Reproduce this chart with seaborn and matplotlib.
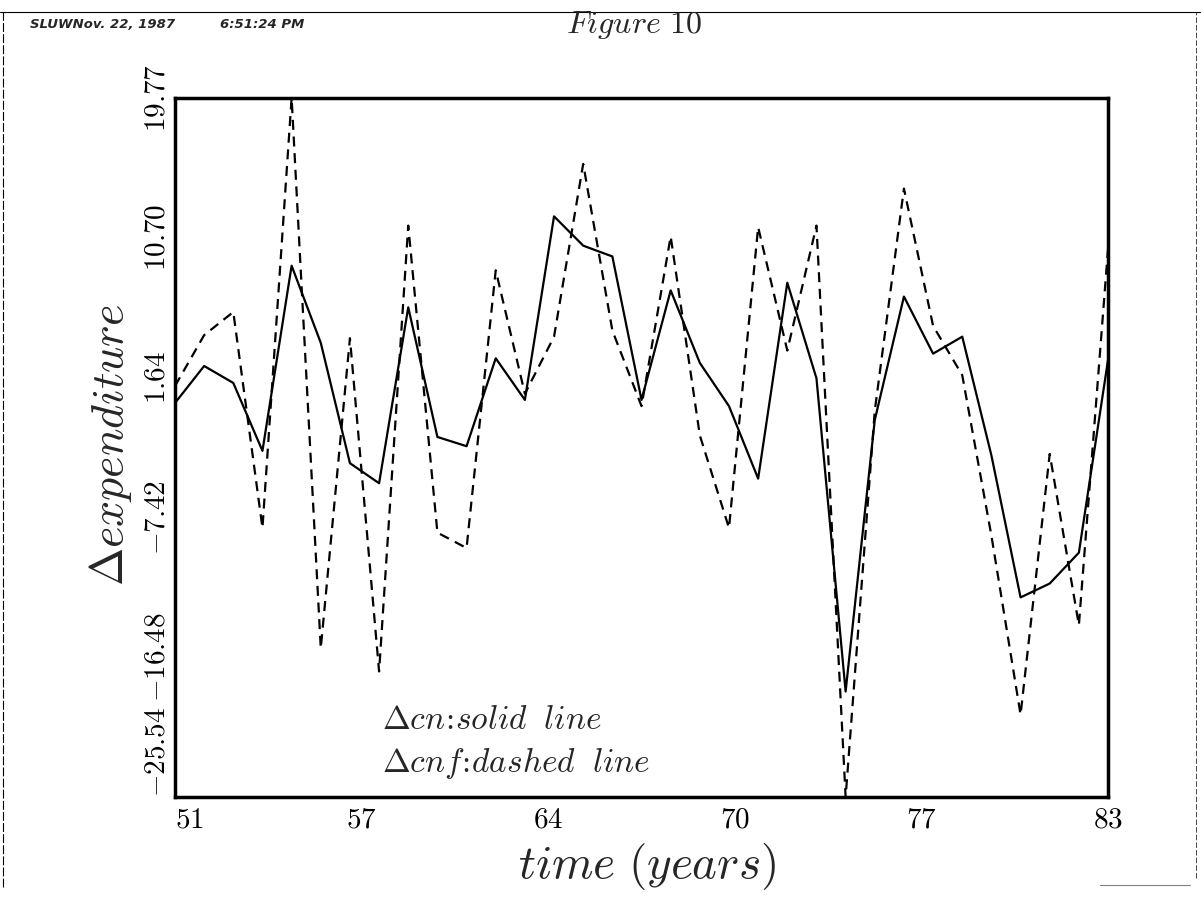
import numpy as np
import pandas as pd
import matplotlib.pyplot as plt
import seaborn as sns
from matplotlib.lines import Line2D

# values (years 1951-1983)
years = list(range(51, 84))
cn = [0.0, 2.4, 1.3, -3.1, 8.9, 3.9, -3.9, -5.2, 6.2, -2.2, -2.8, 2.9, 0.2,
      12.1, 10.2, 9.5, 0.2, 7.3, 2.6, -0.2, -4.9, 7.8, 1.6, -18.7, -1.1,
      6.9, 3.2, 4.3, -3.4, -12.6, -11.7, -9.7, 2.8]
cnf = [1.1, 4.4, 5.9, -8.1, 19.77, -15.9, 4.2, -17.4, 11.5, -8.4, -9.4, 8.6,
       0.6, 4.3, 15.5, 4.7, -0.2, 10.8, -2.1, -8.1, 11.4, 3.4, 11.5, -25.54,
       -0.5, 13.9, 5.0, 1.8, -8.6, -20.2, -3.3, -14.4, 10.0]

x_labels = ["51", "", "57", "", "64", "", "70", "", "77", "", "83"]
y_labels = ["-25.54", "", "-16.48", "", "-7.42", "", "1.64", "", "10.70", "", "19.77"]

df = pd.DataFrame({
    "year": years * 2,
    "value": cn + cnf,
    "series": ["cn"] * len(cn) + ["cnf"] * len(cnf),
})

sns.set_style("white")
plt.rcParams["mathtext.fontset"] = "cm"
plt.rcParams["font.family"] = ["DejaVu Serif"]

fig = plt.figure(figsize=(12.01, 9.05), dpi=100)
ax = fig.add_axes([0.1457, 0.1193, 0.7769, 0.7724])

sns.lineplot(data=df, x="year", y="value", style="series",
             dashes={"cn": "", "cnf": (4.5, 3)}, color="black",
             linewidth=1.6, legend=False, ax=ax)

ax.set_xlim(51, 83)
ax.set_ylim(-25.54, 19.77)
ax.set_xticks(np.linspace(51, 83, 11))
ax.set_yticks(np.linspace(-25.54, 19.77, 11))
ax.set_xticklabels([f"${t}$" if t else "" for t in x_labels], fontsize=21)
ax.set_yticklabels([f"${t}$" if t else "" for t in y_labels], fontsize=21,
                   rotation=90, va="center")
ax.get_xticklabels()[0].set_ha("left")
ax.get_yticklabels()[0].set_va("bottom")
ax.tick_params(direction="in", length=6, width=1.2, colors="black")
ax.tick_params(axis="x", pad=6)
ax.tick_params(axis="y", pad=3)
ax.set_xlabel("")
ax.set_ylabel("")
for s in ax.spines.values():
    s.set_linewidth(2.5)
    s.set_color("black")

ax.text(0.222, 0.110, r"$\Delta cn\!:\!solid\ \;line$", transform=ax.transAxes,
        fontsize=24, va="center")
ax.text(0.222, 0.049, r"$\Delta cnf\!:\!dashed\ \;line$", transform=ax.transAxes,
        fontsize=24, va="center")

fig.text(0.092, 0.508, r"$\Delta expenditure$", rotation=90, fontsize=33,
         ha="center", va="center")
fig.text(0.539, 0.043, r"$time\ (years)$", fontsize=34, ha="center", va="center")
fig.text(0.528, 0.972, r"$Figure\ \mathrm{10}$", fontsize=23, ha="center", va="center")

# print header of the original page
fig.text(30 / 1201, 1 - 24 / 905, "SLUWNov. 22, 1987", fontsize=9.5,
         fontweight="bold", style="italic", family="DejaVu Sans", va="center")
fig.text(220 / 1201, 1 - 24 / 905, "6:51:24 PM", fontsize=9.5,
         fontweight="bold", style="italic", family="DejaVu Sans", va="center")

# page border lines
fig.add_artist(Line2D([0, 1], [1 - 12 / 905] * 2, transform=fig.transFigure,
                      color="black", lw=0.8))
fig.add_artist(Line2D([3 / 1201] * 2, [0.02, 1 - 12 / 905], transform=fig.transFigure,
                      color="black", lw=0.8, ls=(0, (8, 2))))
fig.add_artist(Line2D([1196 / 1201] * 2, [0.03, 1 - 12 / 905], transform=fig.transFigure,
                      color="black", lw=0.5, ls=(0, (8, 3))))
fig.add_artist(Line2D([1100 / 1201, 1190 / 1201], [1 - 885 / 905] * 2,
                      transform=fig.transFigure, color="gray", lw=0.8))

plt.savefig("out.png", dpi=100)
